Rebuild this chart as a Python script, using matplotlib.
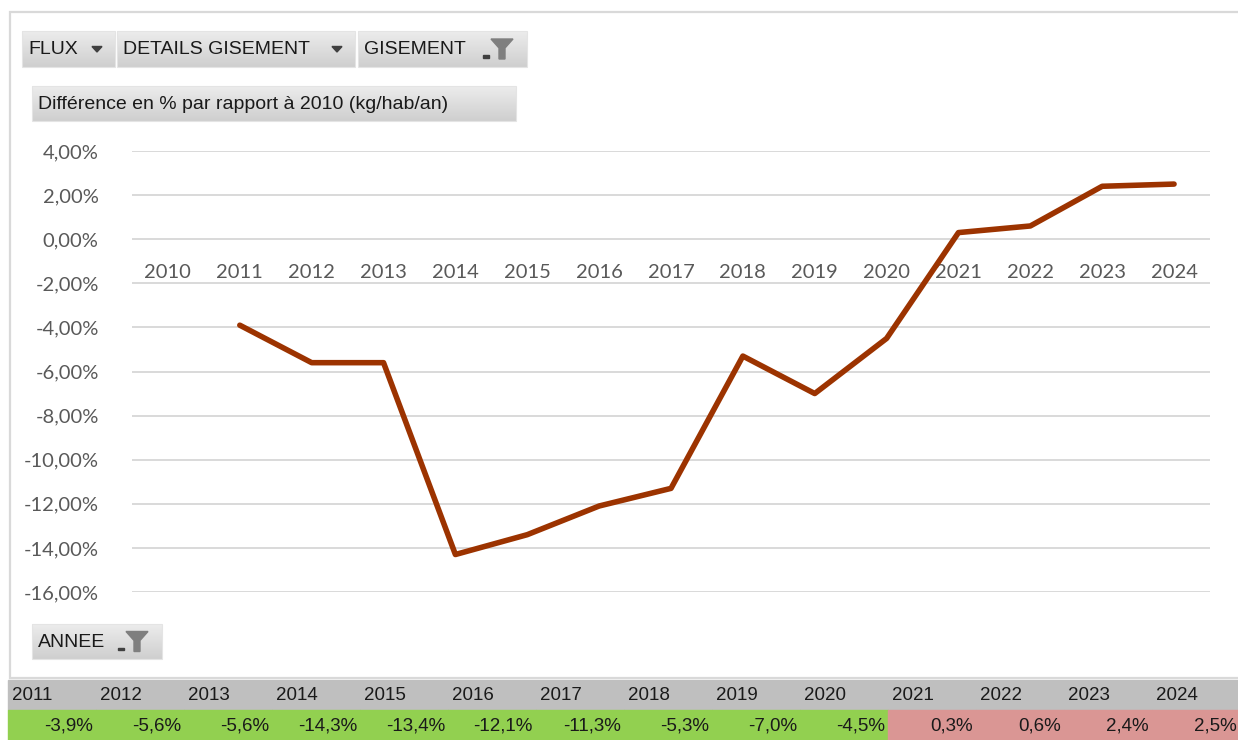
import matplotlib.pyplot as plt
import numpy as np
from matplotlib.patches import Rectangle, Polygon
from matplotlib.colors import LinearSegmentedColormap
from matplotlib.ticker import FuncFormatter

# evolution par rapport a 2010 (kg/hab/an), en %
annees = [str(a) for a in range(2010, 2025)]
ecart = [np.nan, -3.9, -5.6, -5.6, -14.3, -13.4, -12.1, -11.3,
         -5.3, -7.0, -4.5, 0.3, 0.6, 2.4, 2.5]
graduations = [4, 2, 0, -2, -4, -6, -8, -10, -12, -14, -16]

W, H = 1238, 740
fig = plt.figure(figsize=(W / 100, H / 100), dpi=100)

# calque de fond en pixels : cadre, boutons de champ, tableau
bg = fig.add_axes([0, 0, 1, 1], zorder=0)
bg.set_xlim(0, W)
bg.set_ylim(H, 0)
bg.axis('off')

bg.add_patch(Rectangle((10, 12), 1240, 666, facecolor='white',
                       edgecolor='#d9d9d9', lw=1.6, zorder=1))

grad = np.linspace(0, 1, 40).reshape(-1, 1)
cm_btn = LinearSegmentedColormap.from_list('btn', ['#ececec', '#cfcfcf'])
police_btn = 'Liberation Sans'


def fleche(x, y):
    bg.add_patch(Polygon([(x - 5, y - 2.5), (x + 5, y - 2.5), (x, y + 3)],
                         closed=True, color='#404040', zorder=4))


def filtre(x, y):
    # petit tiret + entonnoir
    bg.add_patch(Rectangle((x, y + 6), 6, 2.5, color='#404040', zorder=4))
    bg.add_patch(Polygon([(x + 8, y - 10), (x + 30, y - 10), (x + 22, y - 1),
                          (x + 22, y + 10), (x + 16, y + 10), (x + 16, y - 1)],
                         closed=True, color='#7f7f7f', zorder=4))


def bouton(x0, y0, w, h, texte, marque=None):
    bg.imshow(grad, extent=(x0, x0 + w, y0 + h, y0), cmap=cm_btn,
              aspect='auto', zorder=2)
    bg.add_patch(Rectangle((x0, y0), w, h, fill=False,
                           edgecolor='#e4e4e4', lw=0.8, zorder=3))
    bg.text(x0 + 6, y0 + h / 2 + 1, texte, fontsize=14, family=police_btn,
            color='#1a1a1a', va='center', ha='left', zorder=4)
    if marque == 'fleche':
        fleche(x0 + w - 18, y0 + h / 2)
    elif marque == 'filtre':
        filtre(x0 + w - 44, y0 + h / 2)


bouton(22, 31, 93, 36, 'FLUX', 'fleche')
bouton(117, 31, 238, 36, 'DETAILS GISEMENT', 'fleche')
bouton(358, 31, 169, 36, 'GISEMENT', 'filtre')
bouton(32, 86, 484, 35, 'Différence en % par rapport à 2010 (kg/hab/an)')
bouton(32, 624, 130, 35, 'ANNEE', 'filtre')
bg.set_xlim(0, W)
bg.set_ylim(H, 0)

# tableau sous le graphique
col_w = 88
x_tab = 8
bg.add_patch(Rectangle((x_tab, 680), W - x_tab, 30, color='#bfbfbf', zorder=1))
for i, (a, v) in enumerate(zip(annees[1:], ecart[1:])):
    x0 = x_tab + col_w * i
    fond = '#92d050' if v < 0 else '#da9694'
    bg.add_patch(Rectangle((x0, 710), col_w, 30, color=fond, zorder=1))
    bg.text(x0 + 4, 696, a, fontsize=13.5, family=police_btn, color='#1a1a1a',
            ha='left', va='center', zorder=4)
    bg.text(x0 + col_w - 3, 726, f'{v:.1f}%'.replace('.', ','), fontsize=13.5,
            family=police_btn, color='#1a1a1a', ha='right', va='center', zorder=4)

# graphique
ax = fig.add_axes([132 / W, (H - 592) / H, 1078 / W, 441 / H], zorder=1)
ax.patch.set_alpha(0)
x = np.arange(len(annees))
ax.plot(x, ecart, color='#9c3300', lw=4, solid_capstyle='round',
        solid_joinstyle='round', zorder=3)

ax.set_xlim(-0.5, len(annees) - 0.5)
ax.set_ylim(-16, 4)
ax.set_yticks(graduations)
ax.yaxis.set_major_formatter(FuncFormatter(lambda v, p: f'{v:.2f}%'.replace('.', ',')))
ax.grid(axis='y', color='#d9d9d9', lw=1.4)
ax.set_axisbelow(True)
ax.set_xticks(x)
ax.set_xticklabels(annees)
for s in ['top', 'right', 'left']:
    ax.spines[s].set_visible(False)
ax.spines['bottom'].set_position(('data', 0))
ax.spines['bottom'].set_visible(False)
ax.tick_params(axis='y', length=0, pad=24, labelsize=14.5, labelcolor='#595959')
ax.tick_params(axis='x', length=0, pad=18, labelsize=14.5, labelcolor='#595959')
for t in ax.get_xticklabels() + ax.get_yticklabels():
    t.set_family('Lato')

fig.savefig('out.png', dpi=100)
